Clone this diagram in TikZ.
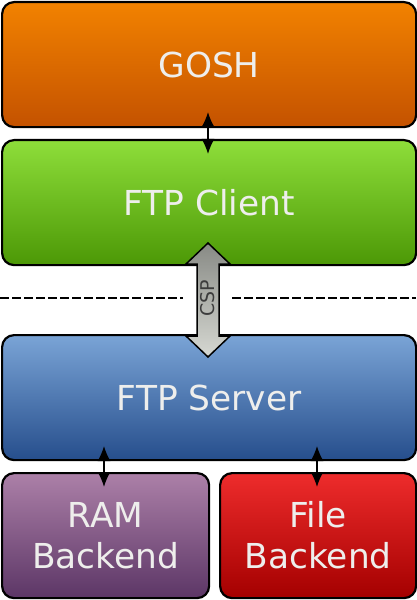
\documentclass[tikz,border=0pt]{standalone}
\usepackage{fontspec}
\setmainfont{DejaVu Sans}
\usetikzlibrary{arrows.meta}
\definecolor{txt}{HTML}{EEEEEC}
\tikzset{
  x=1bp,y=-1bp,
  blk/.style={draw=black, line width=2.2bp, rounded corners=12bp, minimum height=125bp, inner sep=0pt, text=txt, font=\fontsize{34.5}{41}\selectfont, align=center, anchor=north west},
  orangebox/.style={blk, top color={rgb,255:red,242;green,130;blue,0}, bottom color={rgb,255:red,196;green,82;blue,0}},
  greenbox/.style={blk, top color={rgb,255:red,142;green,222;blue,58}, bottom color={rgb,255:red,76;green,152;blue,6}},
  bluebox/.style={blk, top color={rgb,255:red,122;green,164;blue,214}, bottom color={rgb,255:red,38;green,78;blue,140}},
  purplebox/.style={blk, top color={rgb,255:red,172;green,128;blue,168}, bottom color={rgb,255:red,92;green,54;blue,102}},
  redbox/.style={blk, top color={rgb,255:red,238;green,44;blue,44}, bottom color={rgb,255:red,164;green,0;blue,0}},
  link/.style={line width=1.6bp, {Latex[length=15bp,width=13bp]}-{Latex[length=15bp,width=13bp]}},
  sep/.style={line width=2bp, dash pattern=on 9bp off 3bp}
}
\begin{document}
\begin{tikzpicture}
\useasboundingbox (0,0) rectangle (416,600);
\node[orangebox, minimum width=414bp] (gosh) at (1,1) {GOSH};
\node[greenbox, minimum width=414bp] (client) at (1,139) {FTP Client};
\node[bluebox, minimum width=414bp] (server) at (1,334) {FTP Server};
\node[purplebox, minimum width=207bp] (ram) at (1,472) {RAM\\Backend};
\node[redbox, minimum width=196bp] (file) at (219,472) {File\\Backend};
\coordinate (d1) at (0,298);
\coordinate (d2) at (183,298);
\coordinate (d3) at (232,298);
\coordinate (d4) at (416,298);
\draw[sep] (d1) -- (d2);
\draw[sep] (d3) -- (d4);
\draw[line width=1.5bp, top color={rgb,255:red,136;green,138;blue,133}, bottom color={rgb,255:red,214;green,216;blue,210}]
  (208,243) -- (230,264) -- (219,264) -- (219,336) -- (230,336) -- (208,357) -- (186,336) -- (197,336) -- (197,264) -- (186,264) -- cycle;
\node[rotate=90, text={rgb,255:red,60;green,60;blue,60}, font=\fontsize{19}{22}\selectfont, inner sep=0pt] (csp) at (208,298) {CSP};
\coordinate (a1) at (208,112);
\coordinate (a2) at (208,154);
\draw[link] (a1) -- (a2);
\coordinate (b1) at (104,446);
\coordinate (b2) at (104,487);
\draw[link] (b1) -- (b2);
\coordinate (c1) at (317,446);
\coordinate (c2) at (317,487);
\draw[link] (c1) -- (c2);
\end{tikzpicture}
\end{document}
